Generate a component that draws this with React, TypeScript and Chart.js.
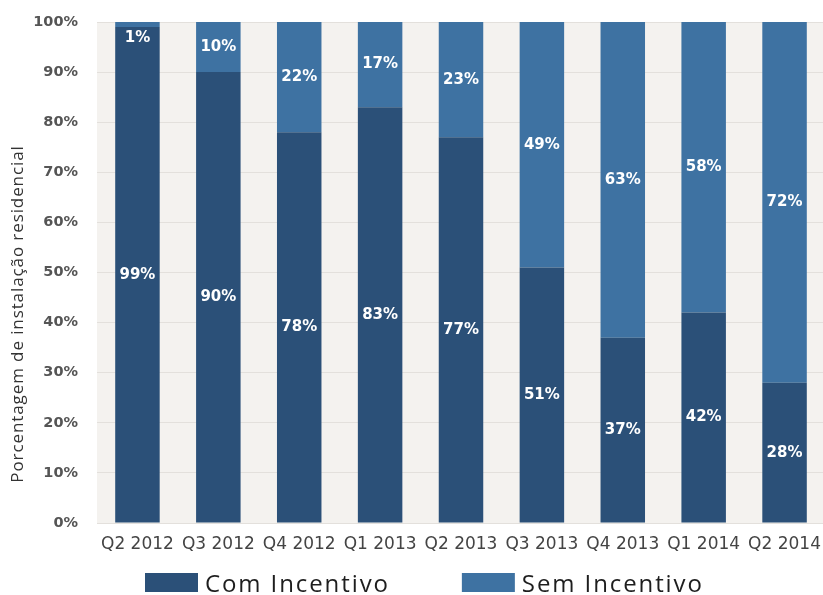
import React, { useEffect, useRef } from "react";
import { Chart, registerables } from "chart.js";

Chart.register(...registerables);

const categories = ["Q2 2012", "Q3 2012", "Q4 2012", "Q1 2013", "Q2 2013", "Q3 2013", "Q4 2013", "Q1 2014", "Q2 2014"];
const comIncentivo = [99, 90, 78, 83, 77, 51, 37, 42, 28];
const semIncentivo = [1, 10, 22, 17, 23, 49, 63, 58, 72];
const yTicks = [0, 10, 20, 30, 40, 50, 60, 70, 80, 90, 100];
const yTitle = "Porcentagem de instalação residencial";

const DARK = "#2b5078";
const LIGHT = "#3e72a2";

const plotBg = {
  id: "plotBg",
  beforeDraw(chart: any) {
    const { ctx, chartArea } = chart;
    ctx.save();
    ctx.fillStyle = "#f4f2ef";
    ctx.fillRect(chartArea.left, chartArea.top, chartArea.right - chartArea.left, chartArea.bottom - chartArea.top);
    ctx.restore();
  },
};

const barLabels = {
  id: "barLabels",
  afterDatasetsDraw(chart: any) {
    const { ctx } = chart;
    ctx.save();
    ctx.fillStyle = "#ffffff";
    ctx.font = "bold 15px 'DejaVu Sans'";
    ctx.textAlign = "center";
    ctx.textBaseline = "middle";
    chart.data.datasets.forEach((ds: any, di: number) => {
      const meta = chart.getDatasetMeta(di);
      meta.data.forEach((el: any, i: number) => {
        const v = ds.data[i];
        let y = (el.y + el.base) / 2;
        if (el.base - el.y < 24) y = el.y + 16;
        ctx.fillText(v + "%", el.x, y);
      });
    });
    ctx.restore();
  },
};

const extras = {
  id: "extras",
  afterDraw(chart: any) {
    const { ctx, chartArea } = chart;
    // legend
    ctx.save();
    ctx.font = "24px 'Open Sans'";
    (ctx as any).letterSpacing = "1.9px";
    ctx.textBaseline = "alphabetic";
    ctx.textAlign = "left";
    let x = chartArea.left + 48;
    const boxTop = 573;
    chart.data.datasets.forEach((ds: any) => {
      ctx.fillStyle = ds.backgroundColor;
      ctx.fillRect(x, boxTop, 53, 19);
      ctx.fillStyle = "#1e1e1e";
      const tx = x + 60;
      ctx.fillText(ds.label, tx, 592);
      const w = ctx.measureText(ds.label).width;
      x = tx + w + 72;
    });
    ctx.restore();
    // y-axis title
    ctx.save();
    ctx.font = "17px 'Open Sans'";
    (ctx as any).letterSpacing = "0.9px";
    ctx.fillStyle = "#333";
    ctx.textAlign = "center";
    ctx.textBaseline = "middle";
    ctx.translate(18, 314);
    ctx.rotate(-Math.PI / 2);
    ctx.fillText(yTitle, 0, 0);
    ctx.restore();
  },
};

export default function App() {
  const ref = useRef<HTMLCanvasElement>(null);
  useEffect(() => {
    document.body.style.margin = "0";
    const chart = new Chart(ref.current!, {
      type: "bar",
      data: {
        labels: categories,
        datasets: [
          { label: "Com Incentivo", data: comIncentivo, backgroundColor: DARK, barPercentage: 0.55, categoryPercentage: 1 },
          { label: "Sem Incentivo", data: semIncentivo, backgroundColor: LIGHT, barPercentage: 0.55, categoryPercentage: 1 },
        ],
      },
      options: {
        responsive: false,
        animation: false,
        layout: { padding: { top: 22, right: 5, left: 0, bottom: 36 } },
        plugins: {
          tooltip: { enabled: false },
          legend: { display: false },
        },
        scales: {
          x: {
            stacked: true,
            grid: { display: false, drawTicks: false },
            border: { display: false },
            ticks: { color: "#444", font: { family: "'DejaVu Sans'", size: 17 }, padding: 11, maxRotation: 0, autoSkip: false },
            afterFit: (s: any) => { s.height = 36; s.paddingLeft = 0; s.paddingRight = 0; },
          },
          y: {
            stacked: true,
            min: 0,
            max: 100,
            afterBuildTicks: (s: any) => { s.ticks = yTicks.map((v) => ({ value: v })); },
            grid: { color: "#e3e0dc", drawTicks: false },
            border: { display: false },
            ticks: {
              color: "#555",
              font: { family: "'DejaVu Sans'", size: 14.5, weight: "bold" },
              padding: 19,
              callback: (v: any) => v + "%",
            },
            afterFit: (s: any) => { s.width = 97; s.paddingTop = 0; s.paddingBottom = 0; },
          },
        },
      },
      plugins: [plotBg, barLabels, extras],
    });
    return () => chart.destroy();
  }, []);
  return (
    <div style={{ width: 823, height: 595, overflow: "hidden" }}>
      <canvas ref={ref} width={830} height={595} />
    </div>
  );
}
